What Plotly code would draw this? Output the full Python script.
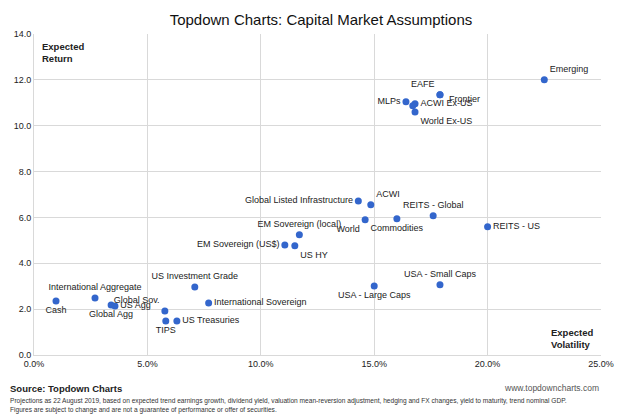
import plotly.graph_objects as go

# 資産クラス、期待ボラティリティ(%)、期待リターン(%)
names = ["Cash", "International Aggregate", "Global Agg", "US Agg", "Global Sov.", "TIPS",
         "US Treasuries", "US Investment Grade", "International Sovereign", "EM Sovereign (US$)",
         "US HY", "EM Sovereign (local)", "Global Listed Infrastructure", "ACWI", "World",
         "Commodities", "REITS - Global", "REITS - US", "USA - Small Caps", "USA - Large Caps",
         "Emerging", "EAFE", "MLPs", "ACWI Ex-US", "", "World Ex-US", "Frontier"]
vol = [0.97, 2.69, 3.4, 3.57, 5.77, 5.81, 6.3, 7.09, 7.7, 11.06, 11.5, 11.7, 14.3, 14.85, 14.6,
       16.0, 17.6, 20.0, 17.9, 15.0, 22.5, 17.9, 16.4, 16.8, 16.7, 16.8, 17.9]
ret = [2.36, 2.49, 2.18, 2.14, 1.92, 1.48, 1.48, 2.97, 2.27, 4.8, 4.76, 5.24, 6.72, 6.55, 5.9,
       5.94, 6.07, 5.59, 3.06, 3.01, 12.0, 11.35, 11.05, 10.96, 10.87, 10.6, 11.35]
positions = ["bottom center", "top center", "bottom center", "middle right", "top left",
             "bottom center", "middle right", "top center", "middle right", "middle left",
             "bottom right", "top center", "middle left", "top right", "bottom left",
             "bottom center", "top center", "middle right", "top center", "bottom center",
             "top right", "top left", "middle left", "middle right", "middle right",
             "bottom right", "middle right"]

fig = go.Figure(go.Scatter(
    x=[v / 100 for v in vol], y=ret, mode="markers+text",
    text=names[:-1] + [""], textposition=positions,
    textfont=dict(size=9, color="#222"),
    marker=dict(size=7, color="#3366cc"),
    cliponaxis=False,
))
# Frontierは点と重なるのでラベルを注記で置く
fig.add_annotation(x=0.182, y=11.15, text="Frontier", showarrow=False, xanchor="left",
                   font=dict(size=9, color="#222"))

fig.update_layout(
    width=626, height=417, template="none",
    font=dict(family="Arial, Liberation Sans", size=9, color="#222"),
    margin=dict(l=26, r=33, t=26, b=70),
    showlegend=False,
    title=dict(text="Topdown Charts: Capital Market Assumptions", x=0.5, y=0.985,
               font=dict(size=15, color="#111")),
    xaxis=dict(range=[0, 0.25], dtick=0.05, tickformat=".1%", showgrid=True,
               gridcolor="#d9d9d9", zeroline=False, showline=True, linecolor="#d9d9d9",
               tickfont=dict(size=9)),
    yaxis=dict(range=[0, 14], dtick=2, tickformat=".1f", showgrid=True,
               gridcolor="#d9d9d9", zeroline=False, showline=True, linecolor="#d9d9d9",
               tickfont=dict(size=9)),
    plot_bgcolor="white", paper_bgcolor="white",
)
fig.add_annotation(x=0.01, y=0.985, xref="paper", yref="paper", text="<b>Expected<br>Return</b>",
                   showarrow=False, xanchor="left", yanchor="top", align="left", font=dict(size=9.5))
fig.add_annotation(x=0.99, y=0.01, xref="paper", yref="paper", text="<b>Expected<br>Volatility</b>",
                   showarrow=False, xanchor="right", yanchor="bottom", align="left", font=dict(size=9.5))
fig.add_annotation(x=-0.045, y=-0.08, xref="paper", yref="paper", text="<b>Source: Topdown Charts</b>",
                   showarrow=False, xanchor="left", yanchor="top", font=dict(size=9.5))
fig.add_annotation(x=1.0, y=-0.08, xref="paper", yref="paper", text="www.topdowncharts.com",
                   showarrow=False, xanchor="right", yanchor="top", font=dict(size=8.5, color="#555"))
fig.add_annotation(x=-0.045, y=-0.125, xref="paper", yref="paper", align="left",
                   text="Projections as 22 August 2019, based on expected trend earnings growth, dividend yield, valuation mean-reversion adjustment, hedging and FX changes, yield to maturity, trend nominal GDP.<br>Figures are subject to change and are not a guarantee of performance or offer of securities.",
                   showarrow=False, xanchor="left", yanchor="top", font=dict(size=6.6, color="#333"))

fig.write_html("out.html")
